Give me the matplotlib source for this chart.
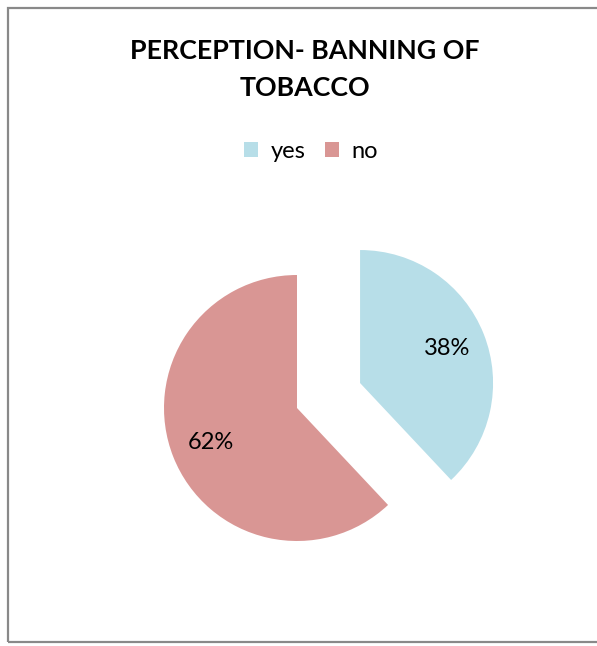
import matplotlib.pyplot as plt
from matplotlib.patches import Rectangle

# survey answers
labels = ["yes", "no"]
values = [38, 62]
colors = ["#B7DEE8", "#D99694"]

W, H = 597, 646
R = 133  # pie radius in pixels
explode = [0.51 * R, 0]

fig = plt.figure(figsize=(W / 100, H / 100), dpi=100)
fig.patch.set_facecolor("white")

# axes in pixel units (y measured from the bottom)
ax = fig.add_axes([0, 0, 1, 1])

wedges, texts, autotexts = ax.pie(
    values, colors=colors, explode=explode, startangle=90, counterclock=False,
    center=(297, H - 408), radius=R, autopct="%.0f%%", pctdistance=0.7,
    textprops=dict(fontsize=17, family="Lato", color="black"),
    wedgeprops=dict(linewidth=0), frame=True)
ax.axis("off")
ax.set_xlim(0, W)
ax.set_ylim(0, H)
ax.set_aspect("equal")

# outer chart border (right side runs off the edge)
fig.patches.append(Rectangle((7.5 / W, (H - 641.5) / H), (W + 10) / W, 634 / H,
                             transform=fig.transFigure, fill=False,
                             edgecolor="#898989", linewidth=1.6))

fig.text(305 / W, 1 - 51 / H, "PERCEPTION- BANNING OF", ha="center", va="center",
         fontsize=19.3, fontweight="bold", family="Lato")
fig.text(305 / W, 1 - 88 / H, "TOBACCO", ha="center", va="center",
         fontsize=19.3, fontweight="bold", family="Lato")

leg = fig.legend(wedges, labels, loc="center", bbox_to_anchor=(311 / W, 1 - 151 / H),
                 ncol=2, frameon=False, prop=dict(family="Lato", size=17),
                 handlelength=0.6, handleheight=0.6, handletextpad=0.55,
                 columnspacing=0.8)

fig.savefig("out.png", dpi=100, facecolor="white")
